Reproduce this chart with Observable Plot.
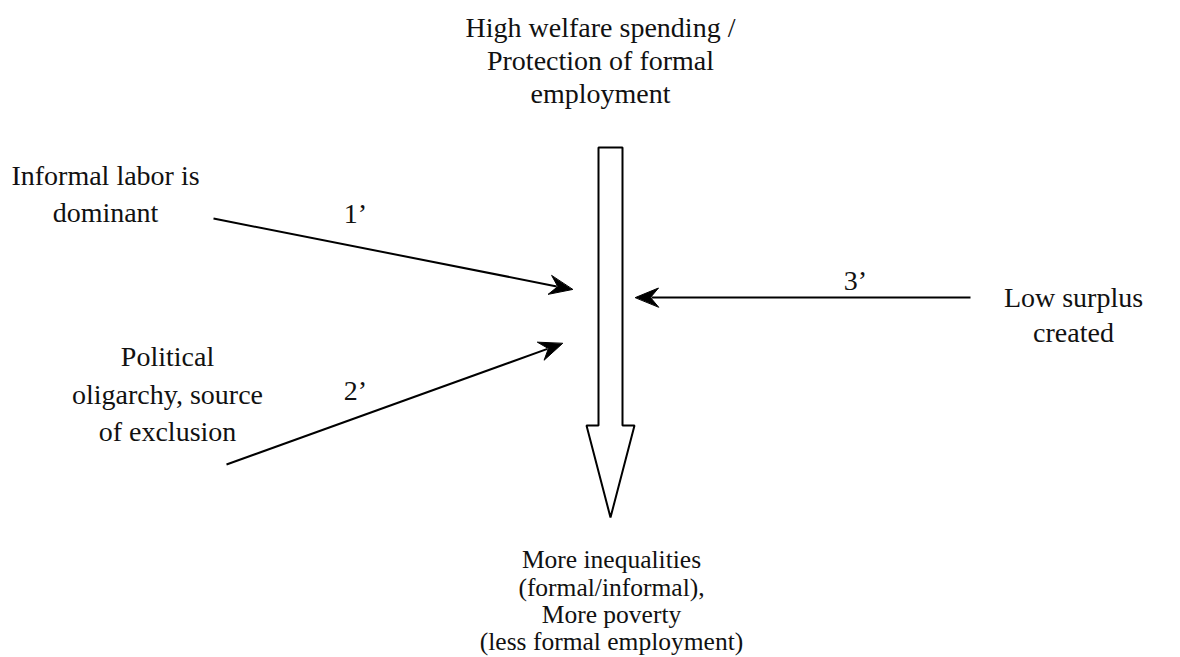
<!DOCTYPE html>
<html>
<head>
<meta charset="utf-8">
<script src="https://cdn.jsdelivr.net/npm/d3@7"></script>
<script src="https://cdn.jsdelivr.net/npm/@observablehq/plot@0.6"></script>
<style>
  html, body { margin: 0; padding: 0; background: #fff; }
  #chart svg { display: block; }
</style>
</head>
<body>
<div id="chart"></div>
<script>
// Text blocks of the diagram (one entry per line)
const topLines = ["High welfare spending /", "Protection of formal", "employment"];
const leftTopLines = ["Informal labor is", "dominant"];
const leftBottomLines = ["Political", "oligarchy, source", "of exclusion"];
const rightLines = ["Low surplus", "created"];
const bottomLines = ["More inequalities", "(formal/informal),", "More poverty", "(less formal employment)"];

// Influence arrows (start -> tip) with their labels
const arrowIds = ["1’", "2’", "3’"];
const arrowStart = [[213, 218], [226, 464], [970, 297]];
const arrowTip = [[572, 289], [562, 343], [635, 297]];
const arrowLabelPos = [[355, 214], [355, 391], [855, 281]];

// Central hollow arrow outline
const bigArrow = [[598, 147], [622, 147], [622, 425], [634, 425], [610, 517], [586, 425], [598, 425]];

const W = 1180, H = 657;
const FONT = "Liberation Serif, Times New Roman, serif";

function block(lines, x, ys, size = 28) {
  return lines.map((t, i) => ({text: t, x, y: ys[i], size}));
}
const texts = [
  ...block(topLines, 600, [28, 61, 94]),
  ...block(leftTopLines, 105, [176, 213]),
  ...block(leftBottomLines, 167, [357, 395, 432]),
  ...block(rightLines, 1073, [298, 333]),
  ...block(bottomLines, 611, [559, 587, 614, 641], 25.5)
];

const shafts = [];
const heads = [];
const labels = [];
arrowIds.forEach((id, i) => {
  const [x1, y1] = arrowStart[i];
  const [x2, y2] = arrowTip[i];
  const dx = x2 - x1, dy = y2 - y1, len = Math.hypot(dx, dy);
  const ux = dx / len, uy = dy / len, nx = -uy, ny = ux;
  const L = 23, Wd = 9.5, notch = 15;
  shafts.push({id, x1, y1, x2: x2 - ux * (notch + 1), y2: y2 - uy * (notch + 1)});
  heads.push(
    {id, x: x2, y: y2},
    {id, x: x2 - L * ux + Wd * nx, y: y2 - L * uy + Wd * ny},
    {id, x: x2 - notch * ux, y: y2 - notch * uy},
    {id, x: x2 - L * ux - Wd * nx, y: y2 - L * uy - Wd * ny}
  );
  labels.push({text: id, x: arrowLabelPos[i][0], y: arrowLabelPos[i][1]});
});
const bigPts = bigArrow.map(([x, y]) => ({x, y}));

const textMarks = [...new Set(texts.map(d => d.size))].map(s =>
  Plot.text(texts.filter(d => d.size === s), {x: "x", y: "y", text: "text", fontSize: s, fontFamily: FONT, fill: "#111", lineAnchor: "middle"})
);

const chart = Plot.plot({
  width: W,
  height: H,
  margin: 0,
  x: {domain: [0, W], range: [0, W], axis: null},
  y: {domain: [0, H], range: [0, H], axis: null},
  style: {background: "#fff"},
  marks: [
    Plot.line(bigPts, {x: "x", y: "y", curve: "linear-closed", stroke: "#000", strokeWidth: 2, fill: "#fff", strokeLinejoin: "miter"}),
    Plot.link(shafts, {x1: "x1", y1: "y1", x2: "x2", y2: "y2", stroke: "#000", strokeWidth: 2}),
    Plot.line(heads, {x: "x", y: "y", z: "id", curve: "linear-closed", fill: "#000", stroke: "#000", strokeWidth: 1}),
    Plot.text(labels, {x: "x", y: "y", text: "text", fontSize: 28, fontFamily: FONT, fill: "#111", lineAnchor: "middle"}),
    ...textMarks
  ]
});
document.getElementById("chart").append(chart);
</script>
</body>
</html>
